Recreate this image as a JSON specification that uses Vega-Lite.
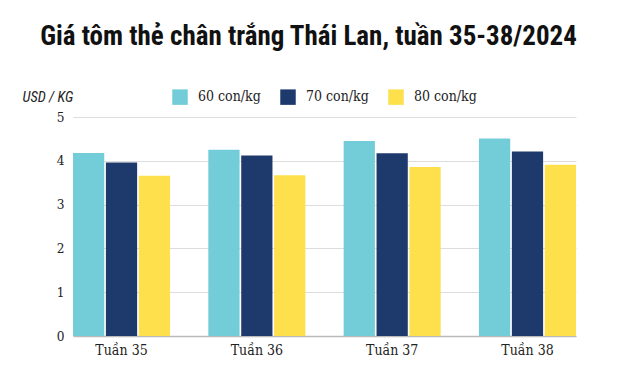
{
  "$schema": "https://vega.github.io/schema/vega-lite/v6.json",
  "width": 503,
  "height": 219,
  "autosize": {"type": "none"},
  "padding": {"left": 73, "top": 117, "right": 46, "bottom": 48},
  "background": "white",
  "title": {
    "text": "Giá tôm thẻ chân trắng Thái Lan, tuần 35-38/2024",
    "anchor": "middle",
    "dx": -16,
    "offset": 38,
    "font": "Roboto Condensed, Roboto, sans-serif",
    "fontSize": 27,
    "fontWeight": "bold",
    "color": "#111111"
  },
  "data": {
    "values": [
      {"week": "Tuần 35", "type": "60 con/kg", "value": 4.18},
      {"week": "Tuần 35", "type": "70 con/kg", "value": 3.96},
      {"week": "Tuần 35", "type": "80 con/kg", "value": 3.66},
      {"week": "Tuần 36", "type": "60 con/kg", "value": 4.25},
      {"week": "Tuần 36", "type": "70 con/kg", "value": 4.12},
      {"week": "Tuần 36", "type": "80 con/kg", "value": 3.67},
      {"week": "Tuần 37", "type": "60 con/kg", "value": 4.45},
      {"week": "Tuần 37", "type": "70 con/kg", "value": 4.17},
      {"week": "Tuần 37", "type": "80 con/kg", "value": 3.86},
      {"week": "Tuần 38", "type": "60 con/kg", "value": 4.51},
      {"week": "Tuần 38", "type": "70 con/kg", "value": 4.21},
      {"week": "Tuần 38", "type": "80 con/kg", "value": 3.91}
    ]
  },
  "mark": {"type": "bar"},
  "encoding": {
    "x": {
      "field": "week",
      "type": "nominal",
      "scale": {"paddingInner": 0.283, "paddingOuter": 0},
      "axis": {
        "title": null,
        "labelAngle": 0,
        "labelFont": "DejaVu Serif Condensed, DejaVu Serif, serif",
        "labelFontSize": 14,
        "labelColor": "#222222",
        "labelPadding": 7,
        "ticks": false,
        "domainColor": "#bbbbbb",
        "domainWidth": 1.5,
        "grid": false
      }
    },
    "xOffset": {"field": "type", "type": "nominal", "scale": {"paddingInner": 0.05}},
    "y": {
      "field": "value",
      "type": "quantitative",
      "scale": {"domain": [0, 5], "nice": false},
      "axis": {
        "values": [0, 1, 2, 3, 4, 5],
        "title": "USD / KG",
        "titleAngle": 0,
        "titleX": -51,
        "titleY": -20,
        "titleAlign": "left",
        "titleBaseline": "middle",
        "titleFont": "Roboto Condensed, Roboto, sans-serif",
        "titleFontStyle": "italic",
        "titleFontWeight": "normal",
        "titleFontSize": 14.5,
        "titleColor": "#222222",
        "labelFont": "DejaVu Serif Condensed, DejaVu Serif, serif",
        "labelFontSize": 13.5,
        "labelColor": "#222222",
        "labelPadding": 9,
        "ticks": false,
        "domain": false,
        "gridColor": "#dddddd",
        "gridWidth": 1
      }
    },
    "color": {
      "field": "type",
      "type": "nominal",
      "scale": {
        "domain": ["60 con/kg", "70 con/kg", "80 con/kg"],
        "range": ["#72CDD9", "#1E3A6D", "#FDE04B"]
      },
      "legend": {
        "title": null,
        "orient": "none",
        "direction": "horizontal",
        "legendX": 99,
        "legendY": -28,
        "symbolType": "square",
        "symbolSize": 240,
        "symbolStrokeWidth": 0,
        "symbolOpacity": 1,
        "labelFont": "DejaVu Serif Condensed, DejaVu Serif, serif",
        "labelFontSize": 14,
        "labelColor": "#222222",
        "labelOffset": 10,
        "columnPadding": 19
      }
    }
  },
  "config": {"view": {"stroke": null}}
}
